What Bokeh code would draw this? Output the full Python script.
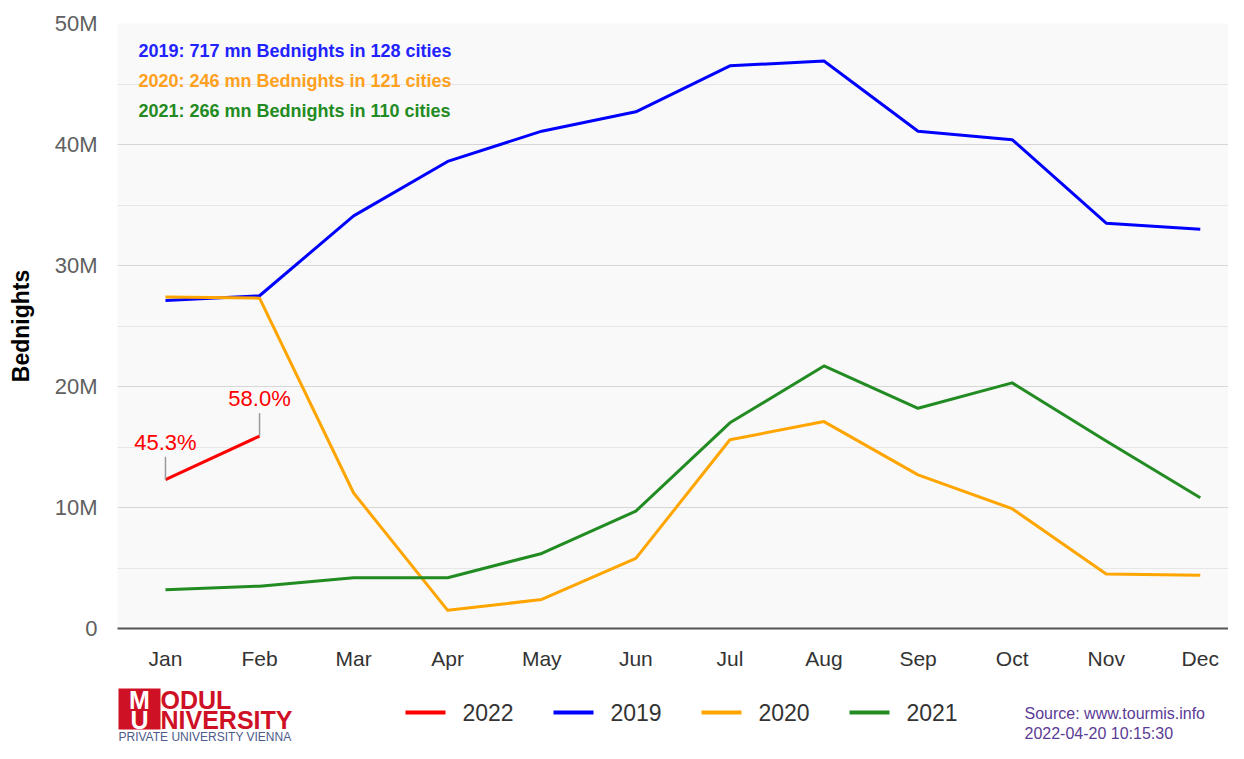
from bokeh.plotting import figure
from bokeh.models import Range1d, FixedTicker, Label, ColumnDataSource
from bokeh.layouts import column
from bokeh.embed import file_html
from bokeh.resources import INLINE
from bokeh.core.properties import value

# ---------------- data ----------------
months = ["Jan", "Feb", "Mar", "Apr", "May", "Jun", "Jul", "Aug", "Sep", "Oct", "Nov", "Dec"]
bednights_2019 = [27.1, 27.5, 34.1, 38.6, 41.1, 42.7, 46.5, 46.9, 41.1, 40.4, 33.5, 33.0]
bednights_2020 = [27.4, 27.3, 11.2, 1.5, 2.4, 5.8, 15.6, 17.1, 12.7, 9.9, 4.5, 4.4]
bednights_2021 = [3.2, 3.5, 4.2, 4.2, 6.2, 9.7, 17.0, 21.7, 18.2, 20.3, 15.5, 10.8]
bednights_2022 = [12.3, 15.9]
pct_2022 = ["45.3%", "58.0%"]
series_names = ["2022", "2019", "2020", "2021"]
series_colors = ["#ff0000", "#0000ff", "#ffa500", "#228b22"]
summary_texts = ["2019: 717 mn Bednights in 128 cities",
                 "2020: 246 mn Bednights in 121 cities",
                 "2021: 266 mn Bednights in 110 cities"]
summary_colors = ["#2222ff", "#ffa020", "#228b22"]
y_ticks = [0, 10, 20, 30, 40, 50]
y_tick_labels = ["0", "10M", "20M", "30M", "40M", "50M"]
y_minor_ticks = [5, 15, 25, 35, 45]
source_lines = ["Source: www.tourmis.info", "2022-04-20 10:15:30"]

color_of = dict(zip(series_names, series_colors))
xs = list(range(len(months)))

# ---------------- main chart ----------------
W = 1228
FRAME_L = 117
p = figure(width=W, height=672, output_backend="svg", toolbar_location=None,
           x_range=Range1d(-0.51, 11.30), y_range=Range1d(0, 50),
           min_border_left=FRAME_L, min_border_right=0, min_border_top=23, min_border_bottom=43)
p.background_fill_color = "#f9f9f9"
p.border_fill_color = "white"
p.outline_line_color = None

# x axis
p.xaxis.ticker = FixedTicker(ticks=xs)
p.xaxis.major_label_overrides = {i: m for i, m in enumerate(months)}
p.xaxis.major_tick_line_color = None
p.xaxis.minor_tick_line_color = None
p.xaxis.major_tick_out = 0
p.xaxis.minor_tick_out = 0
p.xaxis.axis_line_color = "#555555"
p.xaxis.axis_line_width = 2
p.xaxis.major_label_standoff = 18
p.xaxis.major_label_text_font = "Liberation Sans"
p.xaxis.major_label_text_font_size = "21px"
p.xaxis.major_label_text_color = "#333333"
p.xgrid.grid_line_color = None

# y axis
yt = FixedTicker(ticks=y_ticks, minor_ticks=y_minor_ticks)
p.yaxis.ticker = yt
p.yaxis.major_label_overrides = dict(zip(y_ticks, y_tick_labels))
p.yaxis.axis_line_color = None
p.yaxis.major_tick_line_color = None
p.yaxis.minor_tick_line_color = None
p.yaxis.major_tick_out = 0
p.yaxis.minor_tick_out = 0
p.yaxis.major_label_standoff = 20
p.yaxis.major_label_text_font = "Liberation Sans"
p.yaxis.major_label_text_font_size = "22px"
p.yaxis.major_label_text_color = "#606060"
p.yaxis.axis_label = "Bednights"
p.yaxis.axis_label_text_font = "Liberation Sans"
p.yaxis.axis_label_text_font_style = "bold"
p.yaxis.axis_label_text_font_size = "23px"
p.yaxis.axis_label_text_color = "#000000"
p.yaxis.axis_label_standoff = 18
p.ygrid.ticker = yt
p.ygrid.grid_line_color = "#d6d6d6"
p.ygrid.grid_line_width = 1
p.ygrid.minor_grid_line_color = "#e6e6e6"
p.ygrid.minor_grid_line_width = 1

# series
p.line(xs, bednights_2019, line_color=color_of["2019"], line_width=3, line_join="round")
p.line(xs, bednights_2020, line_color=color_of["2020"], line_width=3, line_join="round")
p.line(xs, bednights_2021, line_color=color_of["2021"], line_width=3, line_join="round")
x22 = xs[:len(bednights_2022)]
p.line(x22, bednights_2022, line_color=color_of["2022"], line_width=3, line_join="round")

# percentage labels for 2022 with connectors
CONNECTOR = 1.9  # in axis units (about 23 px)
lab_src = ColumnDataSource(dict(x=x22, y=bednights_2022,
                                y1=[v + CONNECTOR for v in bednights_2022],
                                t=pct_2022))
p.segment(x0="x", y0="y", x1="x", y1="y1", source=lab_src, line_color="#999999", line_width=1.5)
p.text(x="x", y="y1", text="t", source=lab_src, text_align="center", text_baseline="bottom",
       y_offset=-2, text_color="#ff0000", text_font=value("Liberation Sans"),
       text_font_size=value("22px"))

# summary texts (top-left)
for i, (t, c) in enumerate(zip(summary_texts, summary_colors)):
    p.add_layout(Label(x=21, y=578 - 30 * i, x_units="screen", y_units="screen", text=t,
                       text_color=c, text_font="Liberation Sans", text_font_style="bold",
                       text_font_size="18px", text_baseline="middle"))

# ---------------- footer (logo, legend, source) ----------------
# the footer's frame is aligned with the chart frame (x from FRAME_L to W)
FH = 71
f = figure(width=W, height=FH, output_backend="svg", toolbar_location=None,
           x_range=Range1d(FRAME_L, W), y_range=Range1d(FH, 0),
           x_axis_location=None, y_axis_location=None, min_border=0)
f.grid.visible = False
f.outline_line_color = None
f.background_fill_color = "white"
f.border_fill_color = "white"

# legend
leg_x0 = [405 + 148 * i for i in range(len(series_names))]
leg_src = ColumnDataSource(dict(x0=leg_x0, x1=[x + 40 for x in leg_x0], xt=[x + 57 for x in leg_x0],
                                y=[40] * len(series_names), c=series_colors, t=series_names))
f.segment(x0="x0", y0="y", x1="x1", y1="y", line_color="c", line_width=4, source=leg_src)
f.text(x="xt", y="y", text="t", source=leg_src, text_baseline="middle", text_align="left",
       text_color="#333333", text_font=value("Liberation Sans"), text_font_size=value("23px"))

# logo
logo_red = "#cf1126"
LX = 118
f.quad(left=[LX], right=[LX + 42], top=[16], bottom=[57], fill_color=logo_red, line_color=None)
f.text(x=[LX + 21, LX + 21], y=[27, 47], text=["M", "U"], text_align="center", text_baseline="middle",
       text_color="white", text_font=value("Liberation Sans"), text_font_style="bold",
       text_font_size=value("25px"))
f.text(x=[LX + 42, LX + 42], y=[27, 47], text=["ODUL", "NIVERSITY"], text_align="left",
       text_baseline="middle", text_color=logo_red, text_font=value("Liberation Sans"),
       text_font_style="bold", text_font_size=value("25px"))
f.text(x=[LX], y=[64], text=["PRIVATE UNIVERSITY VIENNA"], text_align="left", text_baseline="middle",
       text_color="#4d5a8a", text_font=value("Liberation Sans"), text_font_size=value("12px"))

# source
f.text(x=[1024, 1024], y=[41, 61], text=source_lines, text_align="left", text_baseline="middle",
       text_color="#5b3b96", text_font=value("Liberation Sans"), text_font_size=value("16px"))

layout = column(p, f, spacing=0)
open("out.html", "w").write(file_html(layout, INLINE))
